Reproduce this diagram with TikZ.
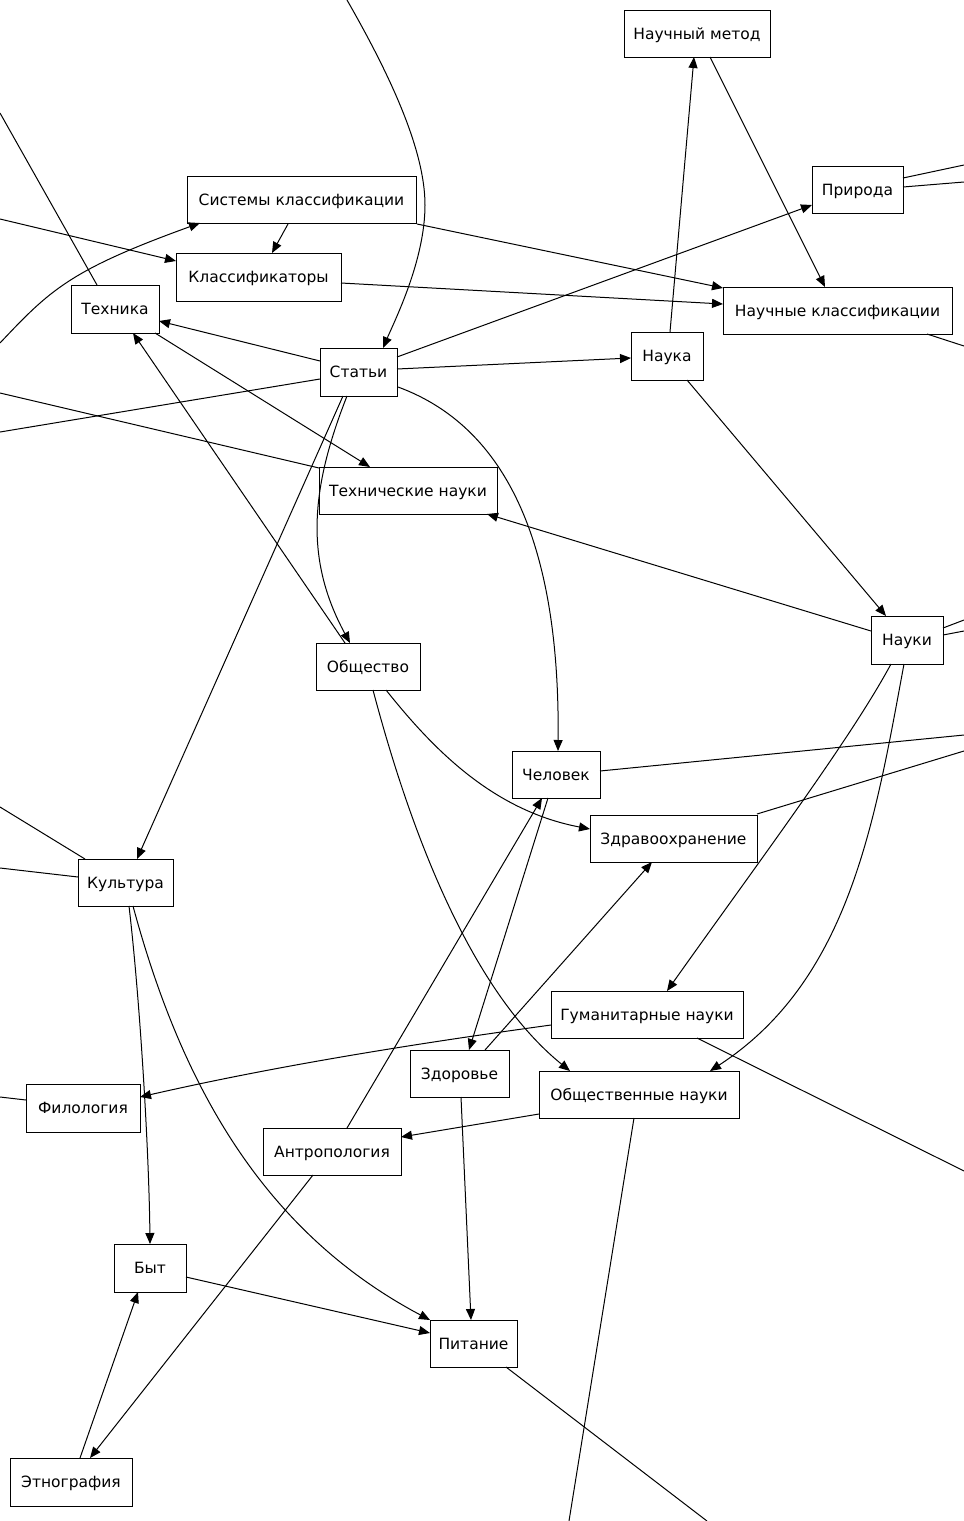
\documentclass[tikz,border=0pt]{standalone}
\usepackage{fontspec}
\setmainfont{DejaVu Sans}
\usetikzlibrary{arrows.meta}
\newcommand\bx[6]{\node[box,minimum width=#4pt,minimum height=#5pt] (#1) at (#2,#3) {#6};}
\begin{document}
\begin{tikzpicture}[x=1pt,y=-1pt,
  box/.style={draw=black,line width=1pt,rectangle,inner sep=0pt,text height=11pt,text depth=0pt,font=\fontsize{15.5}{18}\selectfont},
  edge/.style={line width=1pt},
  arr/.style={edge,-{Triangle[length=11pt,width=9pt]}}]
\useasboundingbox (0,0) rectangle (964,1521);
% nodes
\bx{nm}{697}{33.5}{146}{47}{Научный метод}
\bx{pr}{857.5}{189.5}{91}{47}{Природа}
\bx{sk}{301.5}{199.5}{229}{47}{Системы классификации}
\bx{kl}{258.5}{277}{165}{48}{Классификаторы}
\bx{te}{115}{309}{88}{48}{Техника}
\bx{nk}{837.5}{310.5}{229}{47}{Научные классификации}
\bx{st}{358.5}{372}{77}{48}{Статьи}
\bx{na}{667}{356}{72}{48}{Наука}
\bx{tn}{408}{490.5}{178}{47}{Технические науки}
\bx{nu}{907}{640}{72}{48}{Науки}
\bx{ob}{368}{666.5}{104}{47}{Общество}
\bx{ch}{556}{774.5}{88}{47}{Человек}
\bx{zh}{673.5}{838.5}{167}{47}{Здравоохранение}
\bx{ku}{125.5}{882.5}{95}{47}{Культура}
\bx{gn}{647}{1014.5}{192}{47}{Гуманитарные науки}
\bx{zd}{459.5}{1073.5}{99}{47}{Здоровье}
\bx{on}{639}{1094.5}{200}{47}{Общественные науки}
\bx{fi}{83}{1108}{114}{48}{Филология}
\bx{an}{332}{1151.5}{138}{47}{Антропология}
\bx{by}{150}{1268}{72}{48}{Быт}
\bx{pi}{473.5}{1343.5}{87}{47}{Питание}
\bx{et}{71}{1482}{122}{48}{Этнография}
% off-picture ends
\coordinate (oT) at (347,0);
\coordinate (oL1) at (0,113);
\coordinate (oL2) at (0,219);
\coordinate (oL3) at (0,343);
\coordinate (oL4) at (0,432);
\coordinate (oL5) at (0,393);
\coordinate (oL6) at (0,807);
\coordinate (oL7) at (0,868);
\coordinate (oL8) at (0,1097);
\coordinate (oR1) at (964,165);
\coordinate (oR2) at (964,182);
\coordinate (oR3) at (964,346);
\coordinate (oR4) at (964,620);
\coordinate (oR5) at (964,631);
\coordinate (oR6) at (964,735);
\coordinate (oR7) at (964,751);
\coordinate (oR8) at (964,1171);
\coordinate (oB1) at (569,1521);
\coordinate (oB2) at (707,1521);
% edges
\draw[arr] (oT) .. controls (390,75) and (425,150) .. (425,205) .. controls (425,260) and (395,320) .. ([shift={(24.5,-24)}]st.center);
\draw[edge] ([shift={(-18,-24)}]te.center) -- (oL1);
\draw[arr] (oL2) -- ([shift={(-82.5,-16)}]kl.center);
\draw[arr] (oL3) .. controls (50,290) and (70,270) .. ([shift={(-101.5,23.5)}]sk.center);
\draw[arr] ([shift={(-13.5,24.5)}]sk.center) -- ([shift={(13.5,-24)}]kl.center);
\draw[arr] ([shift={(115.5,24.5)}]sk.center) -- ([shift={(-114.5,-22.5)}]nk.center);
\draw[arr] ([shift={(82.5,6)}]kl.center) -- ([shift={(-114.5,-6.5)}]nk.center);
\draw[arr] ([shift={(13,23.5)}]nm.center) -- ([shift={(-12.5,-23.5)}]nk.center);
\draw[arr] ([shift={(3,-24)}]na.center) -- ([shift={(-3,23.5)}]nm.center);
\draw[arr] ([shift={(38.5,-15)}]st.center) -- ([shift={(-45.5,15.5)}]pr.center);
\draw[edge] ([shift={(45.5,-11.5)}]pr.center) -- (oR1);
\draw[edge] ([shift={(45.5,-2.5)}]pr.center) -- (oR2);
\draw[edge] ([shift={(89.5,23.5)}]nk.center) -- (oR3);
\draw[arr] ([shift={(38.5,-3)}]st.center) -- ([shift={(-36,2)}]na.center);
\draw[arr] ([shift={(-38.5,-11)}]st.center) -- ([shift={(44,12)}]te.center);
\draw[edge] ([shift={(-38.5,7)}]st.center) -- (oL4);
\draw[arr] ([shift={(40,24)}]te.center) -- ([shift={(-38,-23.5)}]tn.center);
\draw[edge] ([shift={(-89,-22.5)}]tn.center) -- (oL5);
\draw[arr] ([shift={(-23,-23.5)}]ob.center) -- ([shift={(18,24)}]te.center);
\draw[arr] ([shift={(-11.5,24)}]st.center) .. controls (310,490) and (305,560) .. ([shift={(-18,-23.5)}]ob.center);
\draw[arr] ([shift={(-15.5,24)}]st.center) -- ([shift={(11.5,-23.5)}]ku.center);
\draw[arr] ([shift={(39.5,15)}]st.center) .. controls (515,430) and (560,560) .. ([shift={(2,-23.5)}]ch.center);
\draw[arr] ([shift={(20,24)}]na.center) -- ([shift={(-21,-24)}]nu.center);
\draw[arr] ([shift={(-36,-9)}]nu.center) -- ([shift={(79,23.5)}]tn.center);
\draw[edge] ([shift={(36,-12)}]nu.center) -- (oR4);
\draw[edge] ([shift={(36,-5)}]nu.center) -- (oR5);
\draw[arr] ([shift={(-16,24)}]nu.center) .. controls (850,740) and (760,860) .. ([shift={(20,-23.5)}]gn.center);
\draw[arr] ([shift={(-3,24)}]nu.center) .. controls (875,820) and (850,980) .. ([shift={(71,-23.5)}]on.center);
\draw[edge] ([shift={(44,-3.5)}]ch.center) -- (oR6);
\draw[edge] ([shift={(83.5,-24.5)}]zh.center) -- (oR7);
\draw[arr] ([shift={(18,23.5)}]ob.center) .. controls (430,745) and (490,810) .. ([shift={(-83.5,-9.5)}]zh.center);
\draw[arr] ([shift={(5,23.5)}]ob.center) .. controls (410,830) and (470,990) .. ([shift={(-69,-23.5)}]on.center);
\draw[arr] ([shift={(15,-23.5)}]an.center) -- ([shift={(-14,23.5)}]ch.center);
\draw[arr] ([shift={(-8,23.5)}]ch.center) -- ([shift={(9.5,-23.5)}]zd.center);
\draw[arr] ([shift={(25.5,-23.5)}]zd.center) -- ([shift={(-21.5,23.5)}]zh.center);
\draw[arr] ([shift={(1.5,23.5)}]zd.center) -- ([shift={(-2.5,-23.5)}]pi.center);
\draw[arr] ([shift={(-96,10.5)}]gn.center) .. controls (420,1043) and (280,1065) .. ([shift={(57,-11)}]fi.center);
\draw[edge] ([shift={(50,23.5)}]gn.center) -- (oR8);
\draw[arr] ([shift={(-100,19.5)}]on.center) -- ([shift={(69,-14.5)}]an.center);
\draw[edge] ([shift={(-5,23.5)}]on.center) -- (oB1);
\draw[edge] ([shift={(-40.5,-23.5)}]ku.center) -- (oL6);
\draw[edge] ([shift={(-47.5,-5.5)}]ku.center) -- (oL7);
\draw[arr] ([shift={(3.5,23.5)}]ku.center) .. controls (140,1000) and (149,1150) .. ([shift={(0,-24)}]by.center);
\draw[arr] ([shift={(7.5,23.5)}]ku.center) .. controls (180,1080) and (260,1230) .. ([shift={(-43.5,-23.5)}]pi.center);
\draw[edge] ([shift={(-57,-8)}]fi.center) -- (oL8);
\draw[arr] ([shift={(-19,23.5)}]an.center) -- ([shift={(19,-24)}]et.center);
\draw[arr] ([shift={(9,-24)}]et.center) -- ([shift={(-12,24)}]by.center);
\draw[arr] ([shift={(36,9)}]by.center) -- ([shift={(-43.5,-10.5)}]pi.center);
\draw[edge] ([shift={(32.5,23.5)}]pi.center) -- (oB2);
\end{tikzpicture}
\end{document}
